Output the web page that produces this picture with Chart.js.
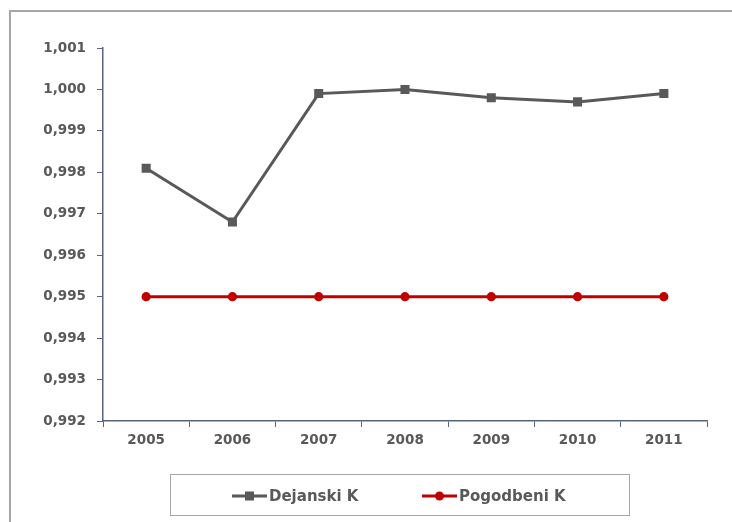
<!DOCTYPE html>
<html>
<head>
<meta charset="utf-8">
<script src="https://cdn.jsdelivr.net/npm/chart.js@4/dist/chart.umd.min.js"></script>
<style>
  html, body { margin: 0; padding: 0; background: #ffffff; }
  #wrap { width: 732px; height: 522px; position: relative; }
</style>
</head>
<body>
<div id="wrap"><canvas id="c" width="732" height="522"></canvas></div>
<script>
// Years on the category axis
const years = ['2005', '2006', '2007', '2008', '2009', '2010', '2011'];
// Actual coefficient per year
const dejanskiK = [0.9981, 0.9968, 0.9999, 1.0000, 0.9998, 0.9997, 0.9999];
// Contracted coefficient per year
const pogodbeniK = [0.995, 0.995, 0.995, 0.995, 0.995, 0.995, 0.995];
const seriesNames = ['Dejanski K', 'Pogodbeni K'];

const axisColor = '#56657e';
const textColor = '#595959';
const fontFamily = '"DejaVu Sans", sans-serif';

// Outer frame and the boxed legend under the plot
const framePlugin = {
  id: 'frameAndLegend',
  beforeDraw(chart) {
    const ctx = chart.ctx;
    ctx.save();
    ctx.fillStyle = '#ffffff';
    ctx.fillRect(0, 0, chart.width, chart.height);
    ctx.strokeStyle = '#a6a6a6';
    ctx.lineWidth = 2;
    ctx.strokeRect(10, 11, chart.width + 20, chart.height + 20);
    ctx.restore();
  },
  afterDraw(chart) {
    const ctx = chart.ctx;
    ctx.save();
    // legend box
    ctx.strokeStyle = '#a6a6a6';
    ctx.lineWidth = 1;
    ctx.strokeRect(170.5, 474.5, 459, 41);
    const cy = 496;
    const items = [{ x: 232 }, { x: 422 }];
    chart.data.datasets.forEach((ds, i) => {
      const x0 = items[i].x;
      ctx.strokeStyle = ds.borderColor;
      ctx.lineWidth = 3;
      ctx.beginPath();
      ctx.moveTo(x0, cy);
      ctx.lineTo(x0 + 35, cy);
      ctx.stroke();
      ctx.fillStyle = ds.backgroundColor;
      const mx = x0 + 17.5;
      if (ds.pointStyle === 'rect') {
        ctx.fillRect(mx - 4.5, cy - 4.5, 9, 9);
      } else {
        ctx.beginPath();
        ctx.arc(mx, cy, 4.5, 0, Math.PI * 2);
        ctx.fill();
      }
      ctx.fillStyle = textColor;
      ctx.font = 'bold 15px ' + fontFamily;
      ctx.textBaseline = 'middle';
      ctx.textAlign = 'left';
      ctx.fillText(ds.label, x0 + 37, cy + 1);
    });
    ctx.restore();
  }
};

new Chart(document.getElementById('c'), {
  type: 'line',
  data: {
    labels: years,
    datasets: [
      {
        label: seriesNames[0],
        data: dejanskiK,
        borderColor: '#595959',
        backgroundColor: '#595959',
        borderWidth: 3,
        pointStyle: 'rect',
        pointRadius: 6.4,
        pointHoverRadius: 6.4,
        pointBorderWidth: 0,
        pointHoverBorderWidth: 0,
        tension: 0
      },
      {
        label: seriesNames[1],
        data: pogodbeniK,
        borderColor: '#c00000',
        backgroundColor: '#c00000',
        borderWidth: 3,
        pointStyle: 'circle',
        pointRadius: 4.6,
        pointHoverRadius: 4.6,
        pointBorderWidth: 0,
        pointHoverBorderWidth: 0,
        tension: 0
      }
    ]
  },
  options: {
    responsive: false,
    animation: false,
    layout: { padding: { top: 48, right: 25, left: 0, bottom: 0 } },
    plugins: {
      legend: { display: false },
      tooltip: { enabled: false }
    },
    scales: {
      x: {
        type: 'category',
        offset: true,
        afterFit(scale) { scale.height = 101; },
        grid: {
          offset: true,
          drawOnChartArea: false,
          drawTicks: true,
          tickLength: 6,
          color: axisColor,
          lineWidth: 1
        },
        border: { color: axisColor, width: 1.5 },
        ticks: {
          color: textColor,
          padding: 5,
          maxRotation: 0,
          font: { family: fontFamily, size: 13.5, weight: 'bold' }
        }
      },
      y: {
        min: 0.992,
        max: 1.001,
        afterFit(scale) { scale.width = 103; },
        grid: {
          drawOnChartArea: false,
          drawTicks: true,
          tickLength: 6,
          color: axisColor,
          lineWidth: 1
        },
        border: { color: axisColor, width: 1.5 },
        ticks: {
          stepSize: 0.001,
          color: textColor,
          padding: 11,
          font: { family: fontFamily, size: 13.5, weight: 'bold' },
          callback: (v) => Number(v).toFixed(3).replace('.', ',')
        }
      }
    }
  },
  plugins: [framePlugin]
});
</script>
</body>
</html>
